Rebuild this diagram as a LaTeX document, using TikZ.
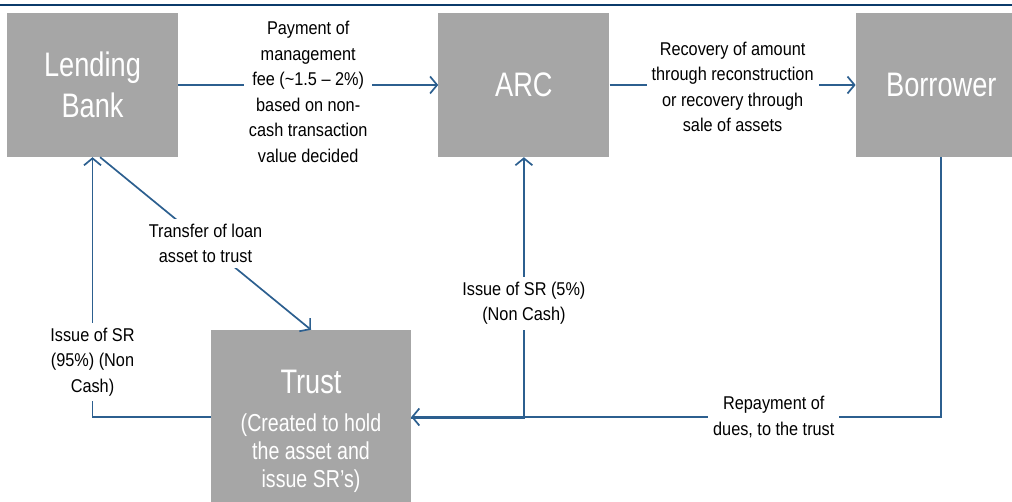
\documentclass[tikz,border=0pt]{standalone}
\usepackage{fontspec}
\setmainfont{Liberation Sans}
\newfontfamily\lblfont{Liberation Sans}[FakeStretch=0.88]
\newfontfamily\boxfont{Liberation Sans}[FakeStretch=0.8]
\usetikzlibrary{positioning,arrows.meta}
\definecolor{boxgrey}{HTML}{A6A6A6}
\definecolor{flowblue}{HTML}{2C5F8F}
\definecolor{rulenavy}{HTML}{0B3B6B}

\begin{document}
\begin{tikzpicture}[x=1pt, y=-1pt,
	greybox/.style = { fill=boxgrey, text=white, minimum width=171pt,
			minimum height=144pt, inner sep=0pt, align=center,
			font=\boxfont\fontsize{34}{41}\selectfont },
	flowlbl/.style = { fill=white, inner sep=5pt, align=center,
			font=\lblfont\fontsize{18.5}{25.5}\selectfont },
	flow/.style = { draw=flowblue, line width=1.7pt,
			-{Straight Barb[length=7pt,width=17pt]} }]

  \useasboundingbox (0,0) rectangle (1012,502);
  \draw [rulenavy, line width=2.2pt] (0,5) -- (1012,5);

  \draw (92.5,85) node[name=bank, greybox]{Lending\\Bank};
  \node[name=arc, greybox, right=260pt of bank]{ARC};
  \node[name=borrower, greybox, right=246pt of arc]{Borrower};
  \draw (311,417) node[name=trust, greybox, minimum width=200pt,
	minimum height=174pt, font=\boxfont\fontsize{24.5}{28}\selectfont]
	{\rule{0pt}{53pt}{\fontsize{34}{41}\selectfont Trust}\\[10pt]
	 (Created to hold\\the asset and\\issue SR’s)};

  \draw [flow] (bank) -- (arc) node [name=feelbl, flowlbl, midway, yshift=-7pt]
	{Payment of\\management\\fee (\textasciitilde1.5 – 2\%)\\based on non-\\cash transaction\\value decided};
  \draw [flow] (arc) -- (borrower) node [name=reclbl, flowlbl, midway, yshift=-2pt]
	{Recovery of amount\\through reconstruction\\or recovery through\\sale of assets};

  \draw [flow] (bank.-84) -- (trust.north)
	 node[name=trflbl, flowlbl, midway] {Transfer of loan\\asset to trust};
  \draw [flow] (trust.west) -| (bank.south)
	 node[name=srbank, flowlbl, pos=0.606] {Issue of SR\\(95\%) (Non\\Cash)};
  \draw [flow] ([yshift=-1.2pt]trust.east) -| (arc.south)
	 node[name=srarc, flowlbl, pos=0.72] {Issue of SR (5\%)\\(Non Cash)};
  \draw [flow] (borrower.south) |- (trust.east)
	 node[name=replbl, flowlbl, pos=0.658] {Repayment of\\dues, to the trust};
\end{tikzpicture}
\end{document}
